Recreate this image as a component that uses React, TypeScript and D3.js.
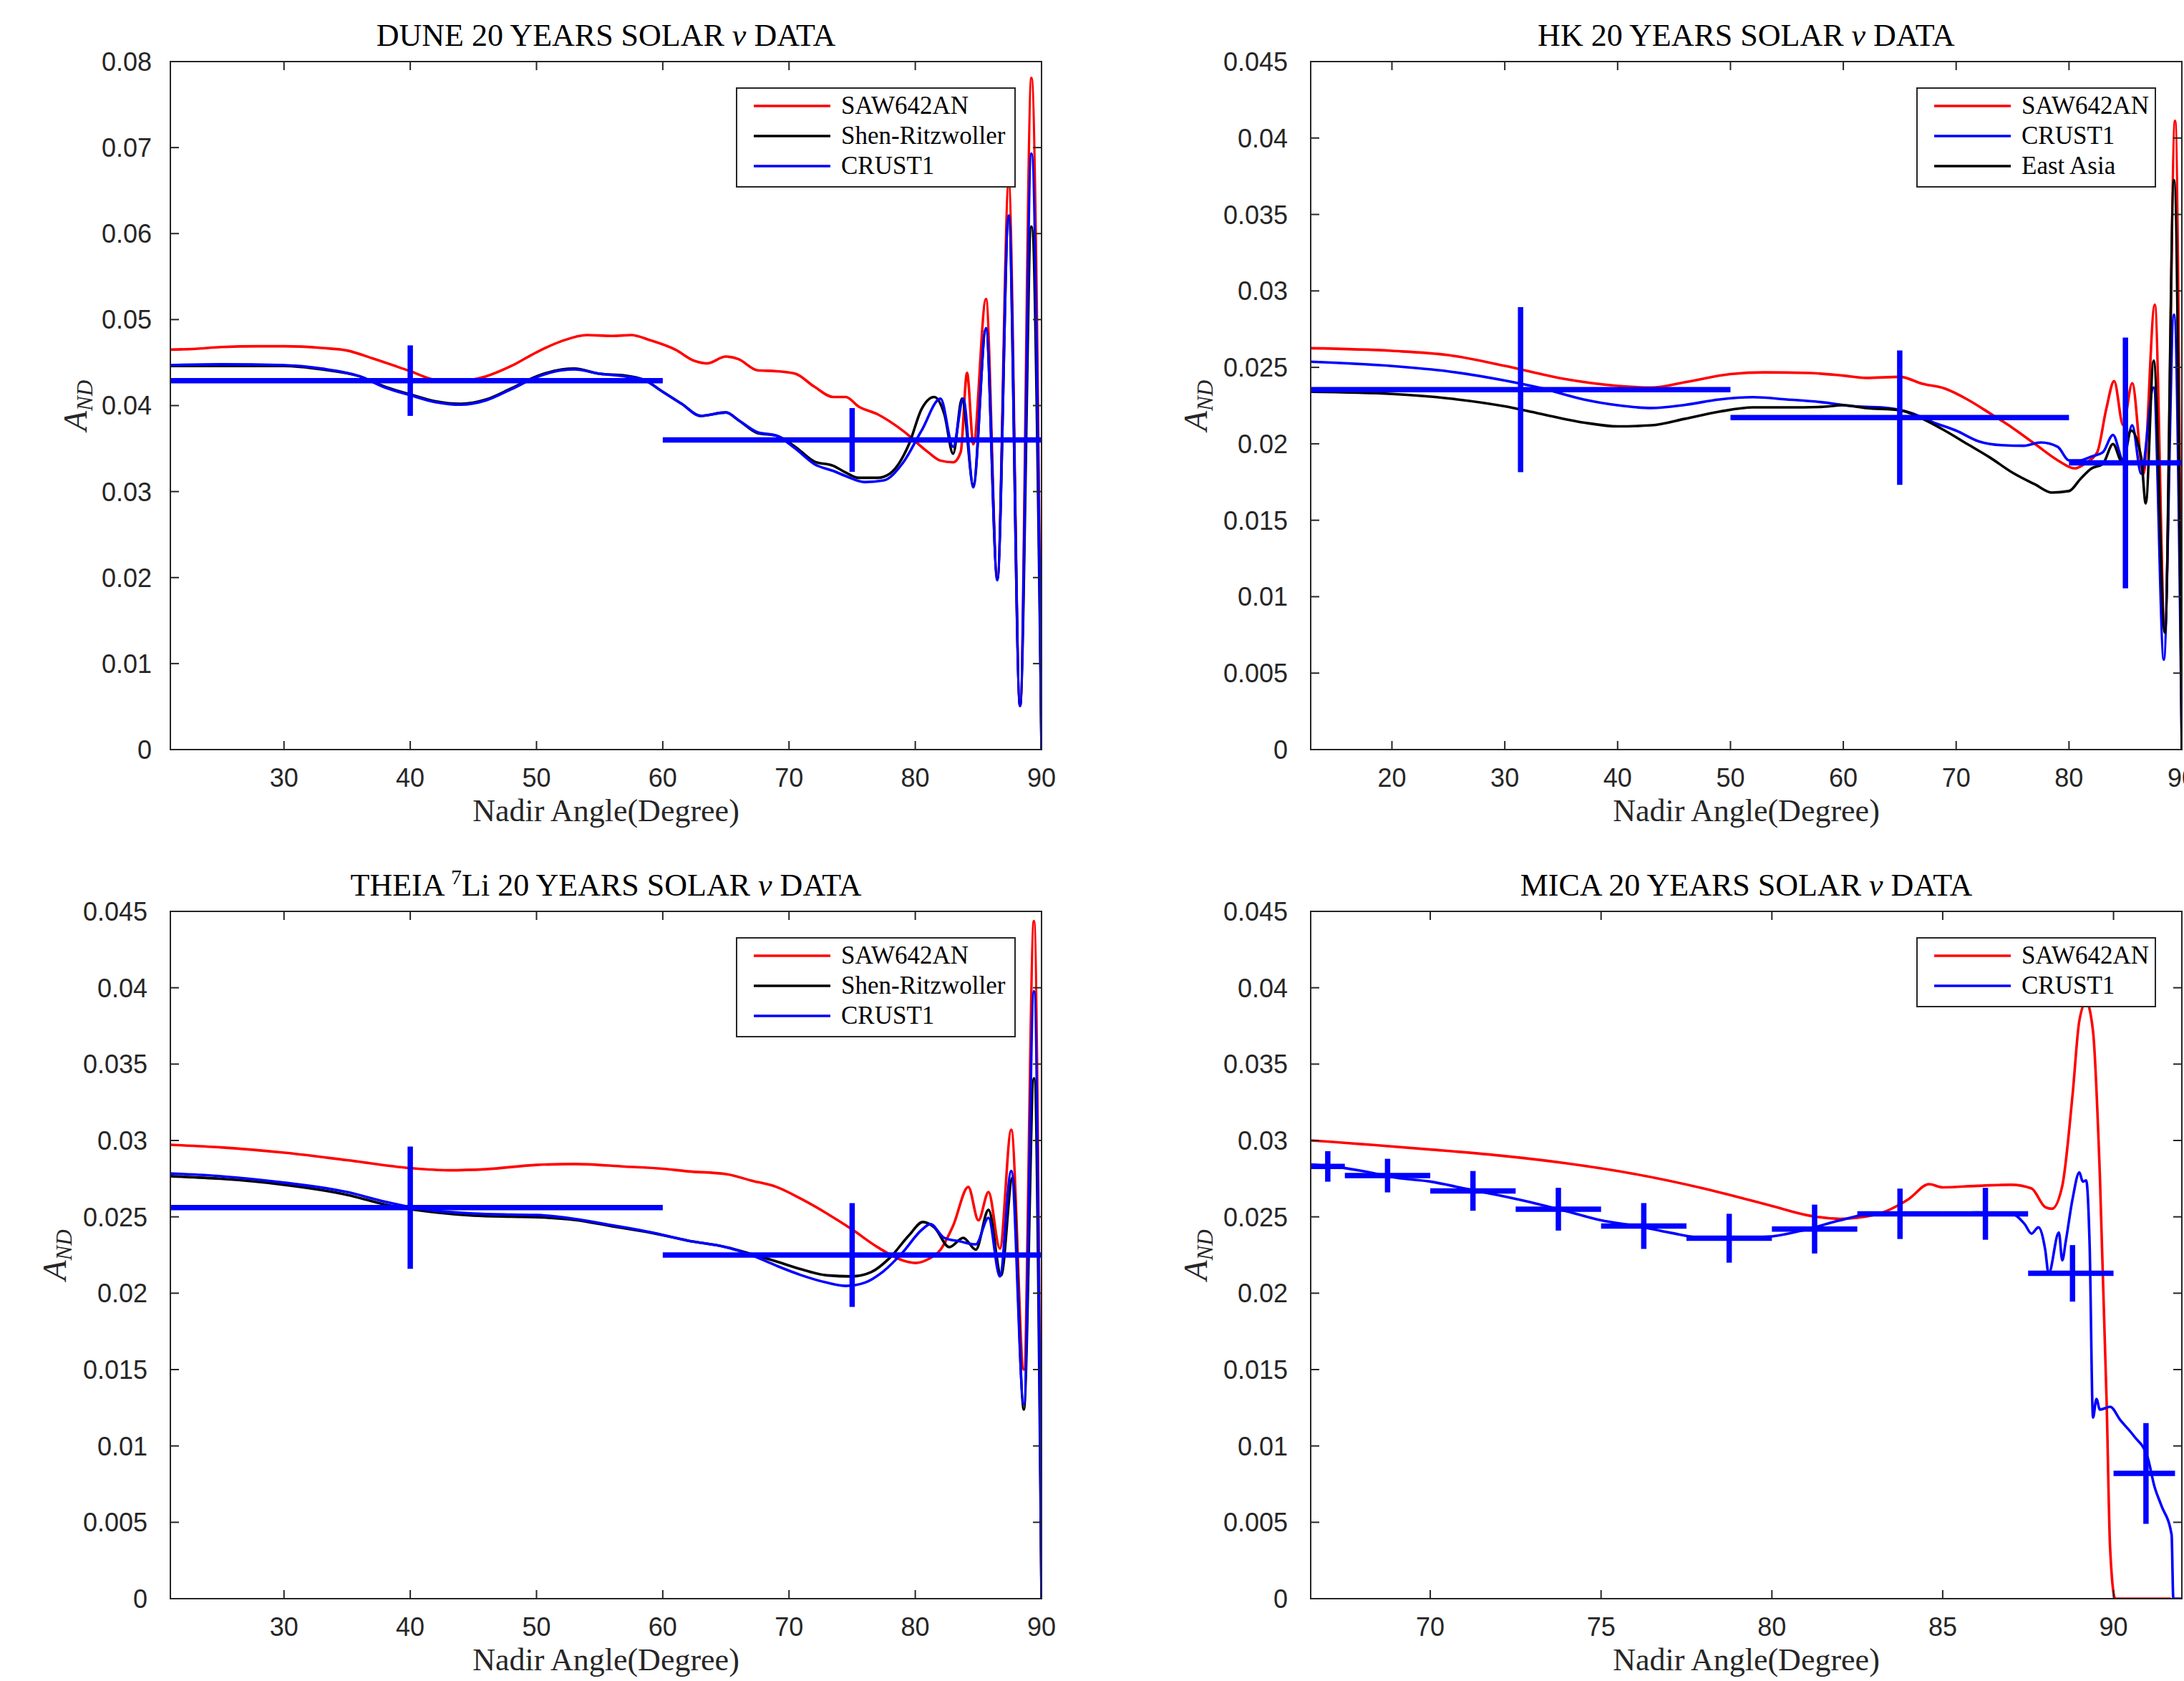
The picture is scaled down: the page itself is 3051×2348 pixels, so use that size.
import * as d3 from "d3";

type Pt = [number, number];

// ---------- DUNE ----------
const duneSaw: Pt[] = [
  [21, 0.0465], [23, 0.0466], [25, 0.0468], [28, 0.0469], [30, 0.0469], [33, 0.0467],
  [35, 0.0464], [37, 0.0455], [40, 0.044], [42, 0.043], [44, 0.0429], [46, 0.0434],
  [48, 0.0446], [50, 0.0462], [52, 0.0475], [54, 0.0482], [56, 0.0481], [57.5, 0.0482],
  [59, 0.0476], [61, 0.0465], [62.5, 0.0452], [63.5, 0.0449], [65, 0.0457], [66, 0.0454],
  [67.5, 0.0441], [69, 0.044], [70.5, 0.0437], [72, 0.0422], [73.5, 0.041], [74.5, 0.041],
  [75.5, 0.0399], [77, 0.039], [79, 0.0371], [81, 0.0346], [82, 0.0336], [83, 0.0334],
  [83.6, 0.0346], [84.1, 0.0438], [84.6, 0.0355], [85.6, 0.0524], [86.5, 0.0199],
  [87.4, 0.0659], [88.3, 0.0051], [89.2, 0.0781], [90, 0],
];
const duneShen: Pt[] = [
  [21, 0.0446], [25, 0.0446], [30, 0.0446], [33, 0.0442], [36, 0.0434], [38, 0.0422],
  [40, 0.0413], [42, 0.0405], [44, 0.0402], [46, 0.0407], [48, 0.042], [50, 0.0434],
  [52, 0.0442], [53, 0.0443], [55, 0.0437], [57, 0.0435], [58.5, 0.043], [60, 0.0416],
  [61.5, 0.0402], [63, 0.0388], [65, 0.0392], [66, 0.0383], [67.5, 0.0368], [69, 0.0365],
  [70.5, 0.0352], [72, 0.0335], [73.5, 0.033], [74.5, 0.0322], [75.5, 0.0316], [77, 0.0316],
  [78, 0.0321], [79.5, 0.0355], [80.5, 0.0396], [81.5, 0.041], [82.3, 0.039], [83, 0.0344],
  [83.7, 0.0408], [84.6, 0.0308], [85.6, 0.0489], [86.5, 0.0199], [87.4, 0.0618],
  [88.3, 0.0051], [89.2, 0.0608], [90, 0],
];
const duneCrust: Pt[] = [
  [21, 0.0447], [25, 0.0448], [30, 0.0447], [33, 0.0443], [36, 0.0434], [38, 0.0421],
  [40, 0.0412], [42, 0.0404], [44, 0.0401], [46, 0.0406], [48, 0.0419], [50, 0.0433],
  [52, 0.0441], [53, 0.0442], [55, 0.0437], [57, 0.0434], [58.5, 0.043], [60, 0.0416],
  [61.5, 0.0402], [63, 0.0388], [65, 0.0392], [66, 0.0383], [67.5, 0.0369], [69, 0.0365],
  [70.5, 0.035], [72, 0.0332], [73.5, 0.0324], [74.5, 0.0318], [76, 0.0311], [77.5, 0.0313],
  [79, 0.0333], [80.5, 0.0371], [82, 0.0408], [83, 0.0352], [83.8, 0.0408], [84.6, 0.0305],
  [85.6, 0.049], [86.5, 0.0197], [87.4, 0.0621], [88.3, 0.0051], [89.2, 0.0693], [90, 0],
];
const duneBinLo = [20, 60];
const duneBinHi = [60, 90];
const duneBinMid = [40, 75];
const duneBinVal = [0.0429, 0.036];
const duneBinErr = [0.0041, 0.0037];

// ---------- HK ----------
const hkSaw: Pt[] = [
  [12.8, 0.02625], [20, 0.02608], [25, 0.0258], [30, 0.0251], [35, 0.02428], [40, 0.02379],
  [43, 0.02368], [46, 0.02403], [50, 0.02456], [53, 0.02467], [57, 0.02463], [60, 0.02446],
  [62, 0.02431], [65, 0.02438], [67, 0.02393], [69, 0.02361], [71, 0.0229], [73, 0.02199],
  [75, 0.02104], [77, 0.01998], [79, 0.01892], [80.5, 0.01839], [81.5, 0.01875],
  [82.5, 0.01945], [83.3, 0.02227], [84, 0.0241], [84.8, 0.02121], [85.6, 0.02396],
  [86.6, 0.01804], [87.6, 0.0291], [88.5, 0.00782], [89.4, 0.04112], [90, 0],
];
const hkCrust: Pt[] = [
  [12.8, 0.02537], [20, 0.02509], [25, 0.02474], [30, 0.02414], [33, 0.02368], [37, 0.0229],
  [40, 0.02252], [43, 0.02234], [46, 0.02255], [49, 0.0229], [52, 0.02305], [55, 0.0229],
  [58, 0.02273], [61, 0.02245], [64, 0.02234], [66, 0.02202], [68, 0.02139], [70, 0.02086],
  [72, 0.02016], [74, 0.01991], [76, 0.01987], [77.5, 0.02009], [79, 0.0198], [80, 0.01892],
  [81, 0.01892], [82, 0.01917], [83, 0.01945], [83.9, 0.02058], [84.8, 0.01892],
  [85.6, 0.02121], [86.4, 0.01804], [87.5, 0.02368], [88.4, 0.00588], [89.3, 0.02844], [90, 0],
];
const hkEastAsia: Pt[] = [
  [12.8, 0.0234], [20, 0.02326], [25, 0.02297], [30, 0.02245], [33, 0.02199], [37, 0.02139],
  [40, 0.02114], [43, 0.02121], [46, 0.02164], [49, 0.0221], [52, 0.02238], [55, 0.02238],
  [58, 0.02241], [60, 0.02252], [62, 0.02234], [65, 0.0222], [67, 0.02164], [69, 0.02086],
  [71, 0.01998], [73, 0.0191], [75, 0.01811], [77, 0.01734], [78.5, 0.01681], [80, 0.01691],
  [81, 0.01769], [82, 0.01839], [83, 0.01868], [83.9, 0.01998], [84.7, 0.01882],
  [85.5, 0.02086], [86.4, 0.0191], [86.8, 0.0161], [87.5, 0.02544], [88.5, 0.00765],
  [89.3, 0.03725], [90, 0],
];
const hkBinLo = [10, 50, 80];
const hkBinHi = [50, 80, 90];
const hkBinMid = [31.4, 65, 85];
const hkBinVal = [0.02354, 0.02171, 0.01875];
const hkBinErr = [0.0054, 0.0044, 0.0082];

// ---------- THEIA ----------
const theiaSaw: Pt[] = [
  [21, 0.02972], [25, 0.02955], [30, 0.0292], [35, 0.02871], [40, 0.02819], [43, 0.02805],
  [46, 0.02812], [50, 0.0284], [53, 0.02846], [57, 0.02829], [60, 0.02815], [62, 0.02798],
  [65, 0.0278], [67, 0.02738], [69, 0.02696], [71, 0.02616], [73, 0.02522], [75, 0.02417],
  [77, 0.02302], [79, 0.02215], [80, 0.02198], [81, 0.02222], [82, 0.02285], [83, 0.02442],
  [84.2, 0.02696], [85, 0.02477], [85.8, 0.02662], [86.7, 0.02292], [87.6, 0.0307],
  [88.6, 0.015], [89.4, 0.04437], [90, 0],
];
const theiaShen: Pt[] = [
  [21, 0.02766], [25, 0.02749], [30, 0.0271], [35, 0.02644], [38, 0.02581], [40, 0.0255],
  [42, 0.02529], [45, 0.02508], [48, 0.02501], [50, 0.02498], [53, 0.0248], [56, 0.02438],
  [59, 0.02397], [62, 0.02344], [65, 0.02302], [67, 0.02257], [69, 0.02208], [71, 0.02156],
  [73, 0.02117], [75, 0.0211], [76.5, 0.02138], [78, 0.02233], [79.5, 0.02379],
  [80.6, 0.02466], [81.5, 0.02431], [82.7, 0.02302], [83.8, 0.02362], [84.8, 0.02285],
  [85.8, 0.02546], [86.8, 0.02117], [87.7, 0.02756], [88.6, 0.01238], [89.4, 0.03408], [90, 0],
];
const theiaCrust: Pt[] = [
  [21, 0.02784], [25, 0.02766], [30, 0.02724], [35, 0.02662], [38, 0.02599], [40, 0.02564],
  [42, 0.0254], [45, 0.02522], [48, 0.02515], [50, 0.02512], [53, 0.02487], [56, 0.02445],
  [59, 0.024], [62, 0.02344], [65, 0.02302], [67, 0.0225], [69, 0.0218], [71, 0.02117],
  [73, 0.02069], [74.5, 0.02048], [76, 0.02069], [77.5, 0.02145], [79, 0.02267],
  [80.5, 0.02414], [81.2, 0.02452], [82.3, 0.02362], [83.5, 0.0234], [84.8, 0.0232],
  [85.8, 0.02494], [86.7, 0.0211], [87.6, 0.02801], [88.6, 0.01273], [89.4, 0.03977], [90, 0],
];
const theiaBinLo = [20, 60];
const theiaBinHi = [60, 90];
const theiaBinMid = [40, 75];
const theiaBinVal = [0.0256, 0.0225];
const theiaBinErr = [0.004, 0.0034];

// ---------- MICA ----------
const micaSaw: Pt[] = [
  [66.5, 0.03], [67, 0.02993], [68, 0.02976], [70, 0.02941], [72, 0.02902], [74, 0.0285],
  [76, 0.0278], [78, 0.02686], [80, 0.02571], [81, 0.02512], [82, 0.02487], [83, 0.02512],
  [84, 0.02616], [84.6, 0.02714], [85, 0.02693], [86, 0.02703], [87, 0.0271], [87.6, 0.02686],
  [88, 0.02564], [88.2, 0.02553], [88.5, 0.02703], [88.8, 0.03296], [89, 0.03785],
  [89.2, 0.03907], [89.4, 0.03715], [89.6, 0.02773], [89.8, 0.01273], [89.9, 0.00331],
  [90.05, 0], [91.68, 0],
];
const micaCrust: Pt[] = [
  [66.5, 0.02843], [67, 0.02833], [68, 0.02801], [69, 0.02756], [70, 0.02731], [71, 0.02686],
  [72, 0.02641], [73, 0.02592], [74, 0.02536], [75, 0.02477], [76, 0.02442], [77, 0.02397],
  [78, 0.02362], [79, 0.02362], [80, 0.02372], [81, 0.02417], [82, 0.02477], [83, 0.02522],
  [84, 0.02522], [85, 0.02522], [86, 0.02529], [87, 0.02522], [87.4, 0.02452], [87.6, 0.0239],
  [87.8, 0.02431], [88, 0.02285], [88.1, 0.02128], [88.4, 0.02397], [88.5, 0.02215],
  [88.6, 0.02337], [88.8, 0.02616], [89, 0.02791], [89.1, 0.02731], [89.2, 0.02738],
  [89.3, 0.0232], [89.4, 0.01186], [89.5, 0.01308], [89.6, 0.01238], [89.9, 0.01256],
  [90.2, 0.01169], [90.6, 0.01064], [91, 0.00924], [91.2, 0.00733], [91.4, 0.0061],
  [91.7, 0.00419], [91.75, 0], [92, 0],
];
const micaBinLo = [66.5, 67.5, 70, 72.5, 75, 77.5, 80, 82.5, 85, 87.5, 90];
const micaBinHi = [67.5, 70, 72.5, 75, 77.5, 80, 82.5, 85, 87.5, 90, 91.8];
const micaBinMid = [67, 68.75, 71.25, 73.75, 76.25, 78.75, 81.25, 83.75, 86.25, 88.8, 90.95];
const micaBinVal = [0.0283, 0.0277, 0.0267, 0.0255, 0.0244, 0.0236, 0.0242, 0.0252, 0.0252, 0.0213, 0.0082];
const micaBinErr = [0.001, 0.0011, 0.0013, 0.0014, 0.0015, 0.0016, 0.0016, 0.00165, 0.0017, 0.00185, 0.0033];

// ---------- ticks ----------
const xTicks30 = [30, 40, 50, 60, 70, 80, 90];
const xTicks20 = [20, 30, 40, 50, 60, 70, 80, 90];
const xTicksMica = [70, 75, 80, 85, 90];
const yTicksDune = [0, 0.01, 0.02, 0.03, 0.04, 0.05, 0.06, 0.07, 0.08];
const yTicks045 = [0, 0.005, 0.01, 0.015, 0.02, 0.025, 0.03, 0.035, 0.04, 0.045];

const RED = "#ff0000";
const BLACK = "#000000";
const BLUE = "#0000ff";
const AX = "#262626";
const SERIF = "'Liberation Serif', 'Times New Roman', serif";
const SANS = "'Liberation Sans', Arial, sans-serif";

type TitlePart = { t: string; italic?: boolean; sup?: boolean };

const bins = (lo: number[], hi: number[], mid: number[], val: number[], err: number[]) =>
  lo.map((l, i) => ({ lo: l, hi: hi[i], mid: mid[i], v: val[i], e: err[i] }));

const panels = [
  {
    id: "dune", left: 238, top: 86, w: 1217, h: 961,
    xDomain: [21, 90], yDomain: [0, 0.08], xTicks: xTicks30, yTicks: yTicksDune,
    yLabGap: 26, yTitleOff: 117, legendW: 389,
    title: [{ t: "DUNE 20 YEARS SOLAR " }, { t: "ν", italic: true }, { t: " DATA" }] as TitlePart[],
    series: [
      { name: "SAW642AN", color: RED, pts: duneSaw },
      { name: "Shen-Ritzwoller", color: BLACK, pts: duneShen },
      { name: "CRUST1", color: BLUE, pts: duneCrust },
    ],
    bins: bins(duneBinLo, duneBinHi, duneBinMid, duneBinVal, duneBinErr),
  },
  {
    id: "hk", left: 1831, top: 86, w: 1217, h: 961,
    xDomain: [12.8, 90], yDomain: [0, 0.045], xTicks: xTicks20, yTicks: yTicks045,
    yLabGap: 32, yTitleOff: 145, legendW: 333,
    title: [{ t: "HK 20 YEARS SOLAR " }, { t: "ν", italic: true }, { t: " DATA" }] as TitlePart[],
    series: [
      { name: "SAW642AN", color: RED, pts: hkSaw },
      { name: "CRUST1", color: BLUE, pts: hkCrust },
      { name: "East Asia", color: BLACK, pts: hkEastAsia },
    ],
    bins: bins(hkBinLo, hkBinHi, hkBinMid, hkBinVal, hkBinErr),
  },
  {
    id: "theia", left: 238, top: 1273, w: 1217, h: 960,
    xDomain: [21, 90], yDomain: [0, 0.045], xTicks: xTicks30, yTicks: yTicks045,
    yLabGap: 32, yTitleOff: 146, legendW: 389,
    title: [
      { t: "THEIA " }, { t: "7", sup: true }, { t: "Li 20 YEARS SOLAR " },
      { t: "ν", italic: true }, { t: " DATA" },
    ] as TitlePart[],
    series: [
      { name: "SAW642AN", color: RED, pts: theiaSaw },
      { name: "Shen-Ritzwoller", color: BLACK, pts: theiaShen },
      { name: "CRUST1", color: BLUE, pts: theiaCrust },
    ],
    bins: bins(theiaBinLo, theiaBinHi, theiaBinMid, theiaBinVal, theiaBinErr),
  },
  {
    id: "mica", left: 1831, top: 1273, w: 1217, h: 960,
    xDomain: [66.5, 92], yDomain: [0, 0.045], xTicks: xTicksMica, yTicks: yTicks045,
    yLabGap: 32, yTitleOff: 145, legendW: 333,
    title: [{ t: "MICA 20 YEARS SOLAR " }, { t: "ν", italic: true }, { t: " DATA" }] as TitlePart[],
    series: [
      { name: "SAW642AN", color: RED, pts: micaSaw },
      { name: "CRUST1", color: BLUE, pts: micaCrust },
    ],
    bins: bins(micaBinLo, micaBinHi, micaBinMid, micaBinVal, micaBinErr),
  },
];

const fmt = (v: number) => String(+v.toFixed(3));

function Panel({ p }: { p: (typeof panels)[number] }) {
  const x = d3.scaleLinear().domain(p.xDomain).range([p.left, p.left + p.w]);
  const y = d3.scaleLinear().domain(p.yDomain).range([p.top + p.h, p.top]);
  const line = d3
    .line<Pt>()
    .x((d) => x(d[0]))
    .y((d) => y(d[1]))
    .curve(d3.curveMonotoneX);
  const bottom = p.top + p.h;
  const right = p.left + p.w;
  const cx = p.left + p.w / 2;
  const tl = 12; // tick length, inward
  const clipId = `clip-${p.id}`;

  const lgRight = right - 37;
  const lgLeft = lgRight - p.legendW;
  const lgTop = p.top + 37;
  const n = p.series.length;
  const lgH = 25 + 42 * (n - 1) + 29;

  return (
    <g>
      <defs>
        <clipPath id={clipId}>
          <rect x={p.left} y={p.top} width={p.w} height={p.h} />
        </clipPath>
      </defs>

      {/* title */}
      <text x={cx} y={p.top - 22} textAnchor="middle" fontFamily={SERIF} fontSize={44} fill="#000"
        style={{ whiteSpace: "pre" }}>
        {p.title.map((tp, i) => {
          const prevSup = i > 0 && p.title[i - 1].sup;
          if (tp.sup) return <tspan key={i} dy={-16} fontSize={30}>{tp.t}</tspan>;
          return (
            <tspan key={i} dy={prevSup ? 16 : 0} fontStyle={tp.italic ? "italic" : "normal"}>
              {tp.t}
            </tspan>
          );
        })}
      </text>

      {/* series */}
      <g clipPath={`url(#${clipId})`} fill="none" strokeLinejoin="round">
        {p.series.map((s) => (
          <path key={s.name} d={line(s.pts) ?? ""} stroke={s.color} strokeWidth={3.6} />
        ))}
        {p.bins.map((b, i) => (
          <g key={i} stroke={BLUE} strokeWidth={7.5}>
            <line x1={x(b.lo)} x2={x(b.hi)} y1={y(b.v)} y2={y(b.v)} />
            <line x1={x(b.mid)} x2={x(b.mid)} y1={y(b.v - b.e)} y2={y(b.v + b.e)} />
          </g>
        ))}
      </g>

      {/* axes box and ticks */}
      <rect x={p.left} y={p.top} width={p.w} height={p.h} fill="none" stroke={AX} strokeWidth={2} />
      {p.xTicks.map((t) => (
        <g key={`x${t}`}>
          <line x1={x(t)} x2={x(t)} y1={bottom} y2={bottom - tl} stroke={AX} strokeWidth={2} />
          <line x1={x(t)} x2={x(t)} y1={p.top} y2={p.top + tl} stroke={AX} strokeWidth={2} />
          <text x={x(t)} y={bottom + 52} textAnchor="middle" fontFamily={SANS} fontSize={36} fill={AX}>
            {fmt(t)}
          </text>
        </g>
      ))}
      {p.yTicks.map((t) => (
        <g key={`y${t}`}>
          <line x1={p.left} x2={p.left + tl} y1={y(t)} y2={y(t)} stroke={AX} strokeWidth={2} />
          <line x1={right} x2={right - tl} y1={y(t)} y2={y(t)} stroke={AX} strokeWidth={2} />
          <text x={p.left - p.yLabGap} y={y(t)} dy="0.36em" textAnchor="end" fontFamily={SANS}
            fontSize={36} fill={AX}>
            {fmt(t)}
          </text>
        </g>
      ))}

      {/* axis titles */}
      <text x={cx} y={bottom + 100} textAnchor="middle" fontFamily={SERIF} fontSize={44} fill={AX}>
        Nadir Angle(Degree)
      </text>
      <text transform={`translate(${p.left - p.yTitleOff},${p.top + p.h / 2}) rotate(-90)`}
        textAnchor="middle" fontFamily={SERIF} fontStyle="italic" fill={AX}>
        <tspan fontSize={46}>A</tspan>
        <tspan fontSize={31} dy={8}>ND</tspan>
      </text>

      {/* legend */}
      <rect x={lgLeft} y={lgTop} width={p.legendW} height={lgH} fill="#fff" stroke={AX} strokeWidth={2} />
      {p.series.map((s, i) => {
        const ry = lgTop + 25 + 42 * i;
        return (
          <g key={s.name}>
            <line x1={lgLeft + 24} x2={lgLeft + 131} y1={ry} y2={ry} stroke={s.color} strokeWidth={3.6} />
            <text x={lgLeft + 146} y={ry + 11} fontFamily={SERIF} fontSize={35} fill="#000">
              {s.name}
            </text>
          </g>
        );
      })}
    </g>
  );
}

export default function App() {
  const W = 3051;
  const H = 2348;
  return (
    <svg width={W} height={H} viewBox={`0 0 ${W} ${H}`}
      style={{ position: "absolute", left: 0, top: 0, background: "#fff", overflow: "hidden" }}>
      <rect width={W} height={H} fill="#fff" />
      {panels.map((p) => (
        <Panel key={p.id} p={p} />
      ))}
    </svg>
  );
}
